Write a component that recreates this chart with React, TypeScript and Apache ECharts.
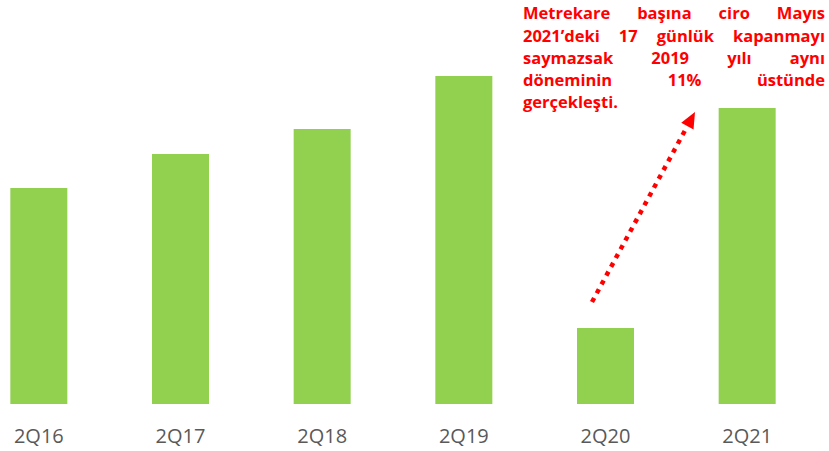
import React, { useEffect, useRef } from "react";
import * as echarts from "echarts";

const categories = ["2Q16", "2Q17", "2Q18", "2Q19", "2Q20", "2Q21"];
const values = [216, 250, 275, 328, 76, 296];

const noteLines: string[][] = [
  ["Metrekare", "başına", "ciro", "Mayıs"],
  ["2021’deki", "17", "günlük", "kapanmayı"],
  ["saymazsak", "2019", "yılı", "aynı"],
  ["döneminin", "11%", "üstünde"],
];
const lastLine = "gerçekleşti.";

const SHIFT = 32;

export default function App() {
  const ref = useRef<HTMLDivElement>(null);
  useEffect(() => {
    document.body.style.margin = "0";
    if (!ref.current) return;
    const chart = echarts.init(ref.current, null, { renderer: "svg" });
    const red = "#FF0000";
    const fontSize = 16.5;
    const fontFamily = "Open Sans";
    const font = { fontFamily, fontSize, fontWeight: "bold" as const, fill: red };
    const canvas = document.createElement("canvas");
    const ctx = canvas.getContext("2d")!;
    ctx.font = `bold ${fontSize}px "${fontFamily}"`;
    const left = 523;
    const right = 825;
    const lineY = [12.5, 35, 57, 79, 101.5];
    const els: any[] = [];
    noteLines.forEach((words, i) => {
      const widths = words.map((w) => ctx.measureText(w).width);
      const total = widths.reduce((a, b) => a + b, 0);
      const gap = (right - left - total) / (words.length - 1);
      let x = left;
      words.forEach((w, j) => {
        els.push({
          type: "text", x: x + SHIFT, y: lineY[i],
          style: { ...font, text: w, align: "left", verticalAlign: "middle" },
        });
        x += widths[j] + gap;
      });
    });
    els.push({
      type: "text", x: left + SHIFT, y: lineY[4],
      style: { ...font, text: lastLine, align: "left", verticalAlign: "middle" },
    });
    const tail = [592 + SHIFT, 302];
    const tip = [695 + SHIFT, 112];
    const dx = tip[0] - tail[0], dy = tip[1] - tail[1];
    const len = Math.sqrt(dx * dx + dy * dy);
    const ux = dx / len, uy = dy / len;
    const hl = 16, hw = 7;
    const base = [tip[0] - ux * hl, tip[1] - uy * hl];
    const px = -uy, py = ux;
    els.push({
      type: "line",
      shape: { x1: tail[0], y1: tail[1], x2: base[0], y2: base[1] },
      style: { stroke: red, lineWidth: 4.5, lineDash: [4.5, 5.5] },
    });
    els.push({
      type: "polygon",
      shape: {
        points: [
          tip,
          [base[0] + px * hw, base[1] + py * hw],
          [base[0] - px * hw, base[1] - py * hw],
        ],
      },
      style: { fill: red },
    });

    chart.setOption({
      animation: false,
      grid: { left: 0, right: 11, top: 54, bottom: 47, containLabel: false },
      xAxis: {
        type: "category",
        data: categories,
        axisLine: { show: false },
        axisTick: { show: false },
        axisLabel: { color: "#595959", fontSize: 20, fontFamily: "Open Sans", margin: 21 },
      },
      yAxis: { type: "value", min: 0, max: 350, show: false, splitLine: { show: false } },
      series: [
        {
          type: "bar",
          data: values,
          barWidth: 57,
          itemStyle: { color: "#92D050" },
        },
      ],
      graphic: els,
    });
    return () => chart.dispose();
  }, []);
  return (
    <div style={{ position: "relative", width: 829, height: 451, overflow: "hidden" }}>
      <div ref={ref} style={{ position: "absolute", left: -SHIFT, top: 0, width: 829 + SHIFT, height: 451 }} />
    </div>
  );
}
